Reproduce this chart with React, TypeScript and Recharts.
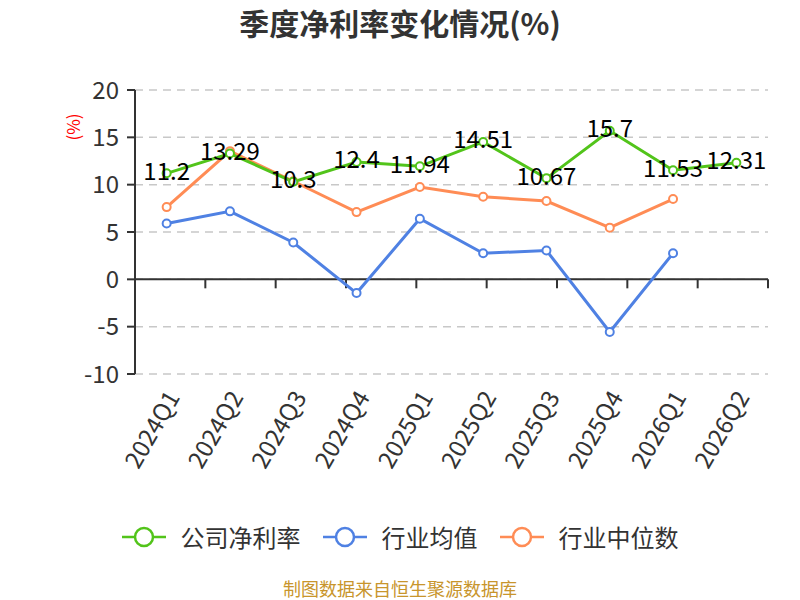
import React from 'react';
import { LineChart, Line, XAxis, YAxis, CartesianGrid, ReferenceLine, LabelList } from 'recharts';

const categories = ['2024Q1', '2024Q2', '2024Q3', '2024Q4', '2025Q1', '2025Q2', '2025Q3', '2025Q4', '2026Q1', '2026Q2'];
const companyNetMargin = [11.2, 13.29, 10.3, 12.4, 11.94, 14.51, 10.67, 15.7, 11.53, 12.31];
const industryAverage = [5.9, 7.18, 3.89, -1.45, 6.4, 2.75, 3.05, -5.56, 2.75, null];
const industryMedian = [7.63, 13.54, 10.36, 7.1, 9.75, 8.73, 8.27, 5.46, 8.48, null];
const yTicks = [-10, -5, 0, 5, 10, 15, 20];

const seriesNames = ['公司净利率', '行业均值', '行业中位数'];
const seriesColors = ['#52c41a', '#4f81e3', '#ff8c55'];

const data = categories.map((c, i) => ({
  name: c,
  company: companyNetMargin[i],
  avg: industryAverage[i],
  median: industryMedian[i],
}));

const boundaries = categories.map((_, i) => i + 1);

const FONT = '"Noto Sans CJK SC", "Noto Sans", sans-serif';

const XTick = (props: any) => {
  const { x, y, payload } = props;
  return (
    <g transform={`translate(${x + 5},${y + 10})`}>
      <text
        x={0}
        y={0}
        transform="rotate(-60)"
        textAnchor="end"
        dominantBaseline="central"
        fontSize={24}
        fill="#333"
        fontFamily={FONT}
      >
        {payload.value}
      </text>
    </g>
  );
};

const ValueLabel = (props: any) => {
  const { x, y, value } = props;
  if (value == null) return null;
  return (
    <text
      x={x}
      y={y - 4}
      textAnchor="middle"
      dominantBaseline="central"
      fontSize={24}
      fill="#000"
      fontFamily={FONT}
    >
      {value}
    </text>
  );
};

const LegendIcon = ({ color }: { color: string }) => (
  <svg width={44} height={22} style={{ display: 'block' }}>
    <line x1={0} y1={11} x2={44} y2={11} stroke={color} strokeWidth={2.5} />
    <circle cx={22} cy={11} r={9} fill="#fff" stroke={color} strokeWidth={2.5} />
  </svg>
);

export default function App() {
  return (
    <div style={{ position: 'absolute', left: 0, top: 0, width: 800, height: 600, background: '#fff', fontFamily: FONT, overflow: 'hidden' }}>
      <div
        style={{
          position: 'absolute',
          left: 0,
          top: 0,
          width: 800,
          textAlign: 'center',
          fontSize: 30,
          fontWeight: 'bold',
          color: '#333',
          lineHeight: '44px',
        }}
      >
        季度净利率变化情况(%)
      </div>
      <div
        style={{
          position: 'absolute',
          left: 72,
          top: 127,
          transform: 'translate(-50%, -50%) rotate(-90deg)',
          color: '#ff0000',
          fontSize: 17,
          whiteSpace: 'nowrap',
        }}
      >
        (%)
      </div>
      <LineChart
        width={800}
        height={600}
        data={data}
        margin={{ top: 90, right: 32, bottom: 106, left: 0 }}
        style={{ position: 'absolute', left: 0, top: 0 }}
      >
        <CartesianGrid vertical={false} stroke="#c8c8c8" strokeDasharray="8 6" strokeWidth={1.5} />
        <XAxis
          dataKey="name"
          scale="band"
          height={120}
          axisLine={false}
          tickLine={false}
          interval={0}
          tick={<XTick />}
        />
        <XAxis xAxisId="num" type="number" domain={[0, categories.length]} hide />
        <YAxis
          width={135}
          domain={[-10, 20]}
          ticks={yTicks}
          interval={0}
          axisLine={{ stroke: '#333', strokeWidth: 2 }}
          tickLine={{ stroke: '#333', strokeWidth: 2 }}
          tickSize={8}
          tickMargin={8}
          tick={{ fontSize: 24, fill: '#333', fontFamily: FONT }}
        />
        <ReferenceLine y={0} stroke="#333" strokeWidth={2} />
        {boundaries.map((b) => (
          <ReferenceLine
            key={b}
            xAxisId="num"
            stroke="#333"
            strokeWidth={2}
            segment={[
              { x: b, y: 0 },
              { x: b, y: -0.95 },
            ]}
          />
        ))}
        <Line
          dataKey="median"
          stroke={seriesColors[2]}
          strokeWidth={3}
          dot={{ r: 4, fill: '#fff', stroke: seriesColors[2], strokeWidth: 2 }}
          isAnimationActive={false}
        />
        <Line
          dataKey="avg"
          stroke={seriesColors[1]}
          strokeWidth={3}
          dot={{ r: 4, fill: '#fff', stroke: seriesColors[1], strokeWidth: 2 }}
          isAnimationActive={false}
        />
        <Line
          dataKey="company"
          stroke={seriesColors[0]}
          strokeWidth={3}
          dot={{ r: 4, fill: '#fff', stroke: seriesColors[0], strokeWidth: 2 }}
          isAnimationActive={false}
        >
          <LabelList dataKey="company" content={<ValueLabel />} />
        </Line>
      </LineChart>
      <div
        style={{
          position: 'absolute',
          left: 0,
          top: 523,
          width: 800,
          display: 'flex',
          justifyContent: 'center',
          alignItems: 'center',
        }}
      >
        {seriesNames.map((n, i) => (
          <div key={n} style={{ display: 'flex', alignItems: 'center', marginRight: i < 2 ? 22 : 0 }}>
            <LegendIcon color={seriesColors[i]} />
            <span style={{ marginLeft: 15, fontSize: 24, color: '#333', lineHeight: '28px' }}>{n}</span>
          </div>
        ))}
      </div>
      <div
        style={{
          position: 'absolute',
          left: 0,
          top: 579,
          width: 800,
          textAlign: 'center',
          fontSize: 18,
          color: '#c8952c',
          lineHeight: '19px',
        }}
      >
        制图数据来自恒生聚源数据库
      </div>
    </div>
  );
}
